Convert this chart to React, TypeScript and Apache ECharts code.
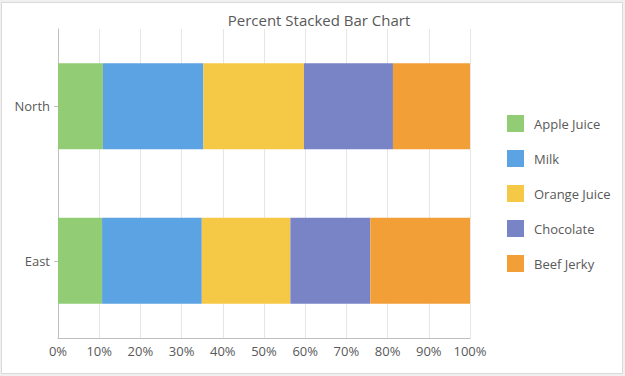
import React, { useEffect, useRef } from "react";
import * as echarts from "echarts";

const categories = ["East", "North"];
const seriesNames = ["Apple Juice", "Milk", "Orange Juice", "Chocolate", "Beef Jerky"];
const appleJuice = [10.7, 10.9];
const milk = [24.2, 24.4];
const orangeJuice = [21.5, 24.4];
const chocolate = [19.4, 21.6];
const beefJerky = [24.2, 18.7];
const colors = ["#92cd76", "#5ba3e3", "#f5c845", "#7884c6", "#f39f38"];

export default function App() {
  const ref = useRef<HTMLDivElement>(null);
  useEffect(() => {
    document.body.style.margin = "0";
    const chart = echarts.init(ref.current!, null, { renderer: "svg" });
    const values = [appleJuice, milk, orangeJuice, chocolate, beefJerky];
    const font = "'Open Sans', 'Noto Sans', sans-serif";
    chart.setOption({
      animation: false,
      textStyle: { fontFamily: font },
      title: {
        text: "Percent Stacked Bar Chart",
        left: 312,
        textAlign: "center",
        top: 4,
        textStyle: { fontSize: 15, fontWeight: "normal", color: "#595959", fontFamily: font },
      },
      legend: {
        orient: "vertical",
        left: 500,
        top: 107,
        itemWidth: 17,
        itemHeight: 17,
        itemGap: 18,
        icon: "rect",
        data: seriesNames,
        textStyle: { fontSize: 13, color: "#595959", padding: [0, 0, 0, 5] },
      },
      grid: { left: 56, top: 26, right: 152, bottom: 35 },
      xAxis: {
        type: "value",
        min: 0,
        max: 100,
        interval: 10,
        axisLabel: { formatter: "{value}%", fontSize: 13, color: "#595959", margin: 6 },
        axisLine: { show: true, lineStyle: { color: "#bfbfbf" } },
        axisTick: { show: false },
        splitLine: { show: true, lineStyle: { color: "#e6e6e6" } },
      },
      yAxis: {
        type: "category",
        data: categories,
        axisLabel: { fontSize: 13, color: "#595959", margin: 8 },
        axisLine: { show: true, lineStyle: { color: "#bfbfbf" } },
        axisTick: { show: true, length: 4, alignWithLabel: true, lineStyle: { color: "#bfbfbf" } },
      },
      series: seriesNames.map((name, i) => ({
        name,
        type: "bar",
        stack: "total",
        barWidth: 86,
        data: values[i],
        itemStyle: { color: colors[i] },
      })),
    });
    return () => chart.dispose();
  }, []);
  return (
    <div style={{ width: 625, height: 376, background: "#f0f0f0", position: "relative" }}>
      <div
        style={{
          position: "absolute",
          left: 1,
          top: 2,
          width: 620,
          height: 370,
          background: "#fff",
          border: "1px solid #dadada",
        }}
      />
      <div ref={ref} style={{ position: "absolute", left: 2, top: 3, width: 620, height: 370 }} />
    </div>
  );
}
